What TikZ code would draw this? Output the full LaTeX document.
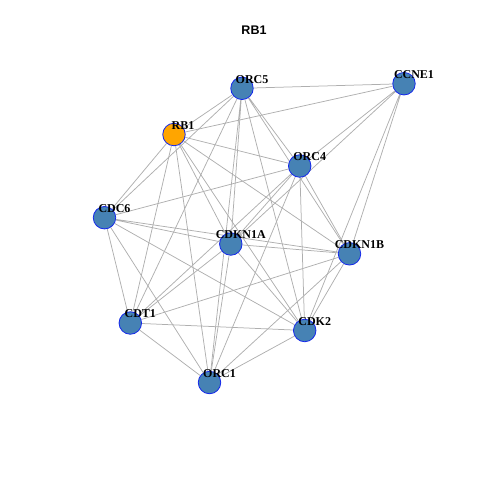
\documentclass[tikz,border=0pt]{standalone}
\usepackage{fontspec}
\setmainfont{Liberation Serif}
\newfontfamily\titlefont{Liberation Sans}
\usepackage{xcolor}
\definecolor{steelblue}{RGB}{70,130,180}
\definecolor{rborange}{RGB}{255,165,0}
\definecolor{edgegray}{RGB}{175,175,175}
\definecolor{rimblue}{RGB}{20,40,235}
\usetikzlibrary{backgrounds}

\begin{document}
\begin{tikzpicture}[
  x=1pt, y=-1pt,
  gene/.style={circle, draw=rimblue, line width=0.8pt, fill=steelblue,
               minimum size=22.5pt, inner sep=0pt},
  seed/.style={gene, fill=rborange},
  lab/.style={font=\fontsize{12}{12}\selectfont\bfseries, inner sep=0pt},
  edge/.style={draw=edgegray, line width=0.75pt}
]
  \useasboundingbox (0,0) rectangle (480,480);

  % Title
  \node[font=\titlefont\fontsize{12.5}{14}\selectfont\bfseries] (title) at (254,30) {RB1};

  % Genes
  \node[gene] (orc5)   at (242,88.3)    [label={[lab, xshift=10pt, yshift=9pt]center:ORC5}] {};
  \node[gene] (ccne1)  at (404,83.7)    [label={[lab, xshift=10pt, yshift=9pt]center:CCNE1}] {};
  \node[seed] (rb1)    at (174,134.5)   [label={[lab, xshift=9pt, yshift=9pt]center:RB1}] {};
  \node[gene] (orc4)   at (299.7,166)   [label={[lab, xshift=10pt, yshift=9pt]center:ORC4}] {};
  \node[gene] (cdc6)   at (104.5,217.7) [label={[lab, xshift=10pt, yshift=9pt]center:CDC6}] {};
  \node[gene] (cdkn1a) at (230.8,244)   [label={[lab, xshift=10pt, yshift=9pt]center:CDKN1A}] {};
  \node[gene] (cdkn1b) at (349.5,253.8) [label={[lab, xshift=10pt, yshift=9pt]center:CDKN1B}] {};
  \node[gene] (cdt1)   at (130.3,323)   [label={[lab, xshift=10pt, yshift=9pt]center:CDT1}] {};
  \node[gene] (cdk2)   at (304.7,330.5) [label={[lab, xshift=10pt, yshift=9pt]center:CDK2}] {};
  \node[gene] (orc1)   at (209.5,382.5) [label={[lab, xshift=10pt, yshift=9pt]center:ORC1}] {};

  % Interactions (behind the genes)
  \begin{pgfonlayer}{background}
    \draw[edge] (rb1) -- (orc5) (rb1) -- (ccne1) (rb1) -- (orc4) (rb1) -- (cdc6)
                (rb1) -- (cdkn1a) (rb1) -- (cdkn1b) (rb1) -- (cdt1) (rb1) -- (cdk2)
                (rb1) -- (orc1);
    \draw[edge] (orc5) -- (ccne1) (orc5) -- (orc4) (orc5) -- (cdc6) (orc5) -- (cdkn1a)
                (orc5) -- (cdkn1b) (orc5) -- (cdt1) (orc5) -- (cdk2) (orc5) -- (orc1);
    \draw[edge] (ccne1) -- (orc4) (ccne1) -- (cdkn1a) (ccne1) -- (cdkn1b) (ccne1) -- (cdk2);
    \draw[edge] (orc4) -- (cdc6) (orc4) -- (cdkn1a) (orc4) -- (cdkn1b) (orc4) -- (cdt1)
                (orc4) -- (cdk2) (orc4) -- (orc1);
    \draw[edge] (cdc6) -- (cdkn1a) (cdc6) -- (cdkn1b) (cdc6) -- (cdt1) (cdc6) -- (cdk2)
                (cdc6) -- (orc1);
    \draw[edge] (cdkn1a) -- (cdkn1b) (cdkn1a) -- (cdt1) (cdkn1a) -- (cdk2) (cdkn1a) -- (orc1);
    \draw[edge] (cdkn1b) -- (cdt1) (cdkn1b) -- (cdk2) (cdkn1b) -- (orc1);
    \draw[edge] (cdt1) -- (cdk2) (cdt1) -- (orc1) (cdk2) -- (orc1);
  \end{pgfonlayer}
\end{tikzpicture}
\end{document}
